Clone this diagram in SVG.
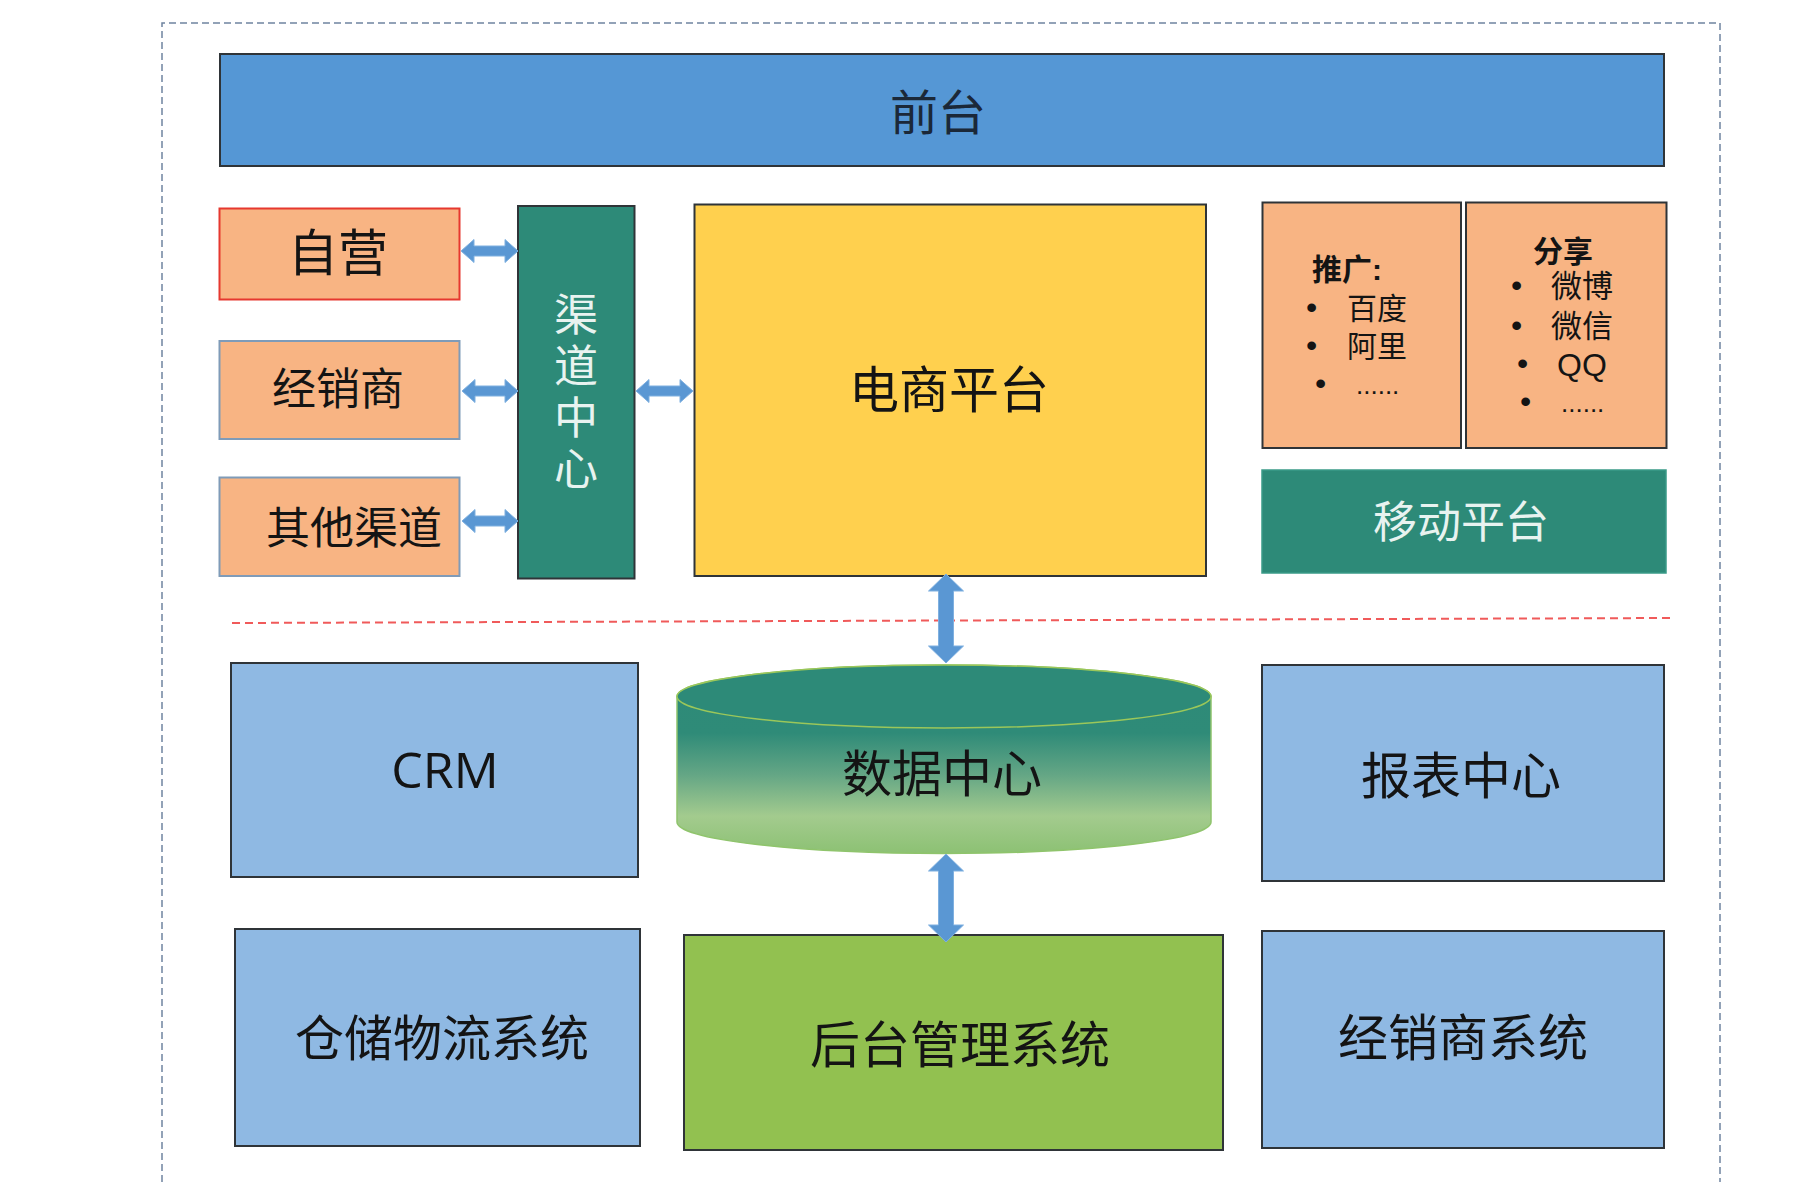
<svg xmlns="http://www.w3.org/2000/svg" width="1802" height="1182" viewBox="0 0 1802 1182">
<defs>
<linearGradient id="cylGrad" x1="0" y1="665" x2="0" y2="854" gradientUnits="userSpaceOnUse">
<stop offset="0" stop-color="#2D8A78"/>
<stop offset="0.36" stop-color="#2F8B78"/>
<stop offset="0.58" stop-color="#64A685"/>
<stop offset="0.8" stop-color="#A3CB8E"/>
<stop offset="1" stop-color="#8CC173"/>
</linearGradient>
<style>
.box{stroke:#2F3438;stroke-width:2}
.peach{fill:#F8B483}
.teal{fill:#2D8A78}
.lblue{fill:#8FB9E3}
.t{font-family:"Noto Sans CJK SC","Liberation Sans",sans-serif;fill:#141414;text-anchor:middle}
.tl{font-family:"Noto Sans CJK SC","Liberation Sans",sans-serif;fill:#141414}
.li{font-family:"Liberation Sans","Noto Sans CJK SC",sans-serif;fill:#141414}
.w{fill:#E8F3F0}
.b{font-weight:bold}
.bul{font-size:32px}
.arrow{fill:#5A97D3;stroke:#7FB0E0;stroke-width:1}
</style>
</defs>
<rect x="0" y="0" width="1802" height="1182" fill="#FFFFFF"/>
<path d="M162,1182 V23 H1720 V1182" fill="none" stroke="#6F84A0" stroke-width="1.5" stroke-dasharray="7 4"/>
<line x1="232" y1="623" x2="1671" y2="618" stroke="#F05A5A" stroke-width="2" stroke-dasharray="8 5"/>

<g id="qiantai">
<rect x="220" y="54" width="1444" height="112" fill="#5597D5" class="box"/>
<text x="938" y="130" class="t" font-size="48" style="fill:#1B2838">前台</text>
</g>

<g id="ziying">
<rect x="219.5" y="208.5" width="240" height="91" class="peach" stroke="#E6382F" stroke-width="2"/>
<text x="338" y="271" class="t" font-size="50">自营</text>
</g>

<g id="jingxiaoshang">
<rect x="219.5" y="341" width="240" height="98" class="peach" stroke="#7F9BB8" stroke-width="2"/>
<text x="338" y="405" class="t" font-size="44">经销商</text>
</g>

<g id="qitaqudao">
<rect x="219.5" y="477.5" width="240" height="98.5" class="peach" stroke="#7F9BB8" stroke-width="2"/>
<text x="354" y="544" class="t" font-size="44">其他渠道</text>
</g>

<g id="qudaozhongxin">
<rect x="518" y="206" width="116.5" height="372.5" class="teal box"/>
<text x="576" y="292" class="tl w" font-size="44" writing-mode="vertical-rl" letter-spacing="7.5">渠道中心</text>
</g>

<g id="dianshang">
<rect x="694.5" y="204.5" width="511.5" height="371.5" fill="#FFD04E" class="box"/>
<text x="949" y="408" class="t" font-size="50">电商平台</text>
</g>

<g id="tuiguang">
<rect x="1262.5" y="202.5" width="198.5" height="245.5" class="peach box"/>
<text class="li" font-size="30"><tspan x="1312" y="280" class="b">推广:</tspan><tspan x="1306" y="318" class="bul">•</tspan><tspan x="1347" y="319">百度</tspan><tspan x="1306" y="356" class="bul">•</tspan><tspan x="1347" y="357">阿里</tspan><tspan x="1315" y="394" class="bul">•</tspan><tspan x="1356" y="394" font-size="26">......</tspan></text>
</g>

<g id="fenxiang">
<rect x="1466" y="202.5" width="200.5" height="245.5" class="peach box"/>
<text class="li" font-size="31"><tspan x="1533" y="262" class="b" font-size="30">分享</tspan><tspan x="1511" y="296" class="bul">•</tspan><tspan x="1551" y="297">微博</tspan><tspan x="1511" y="336" class="bul">•</tspan><tspan x="1551" y="337">微信</tspan><tspan x="1517" y="374" class="bul">•</tspan><tspan x="1557" y="376" font-size="32">QQ</tspan><tspan x="1520" y="412" class="bul">•</tspan><tspan x="1561" y="412" font-size="26">......</tspan></text>
</g>

<g id="yidong">
<rect x="1262" y="470" width="404" height="103" class="teal" stroke="#3A9A88" stroke-width="1.5"/>
<text x="1461" y="538" class="t w" font-size="44">移动平台</text>
</g>

<g id="crm">
<rect x="231" y="663" width="407" height="214" class="lblue box"/>
<text x="445" y="788" class="t" font-size="50" style="font-family:'Open Sans','Noto Sans CJK SC',sans-serif">CRM</text>
</g>

<g id="shujuzhongxin">
<path d="M677,696.5 V822 A267,31.5 0 0 0 1211,822 V696.5 A267,31.5 0 0 0 677,696.5 Z" fill="url(#cylGrad)" stroke="#8FC46C" stroke-width="1.5"/>
<ellipse cx="944" cy="696.5" rx="267" ry="31.5" fill="#2D8A78" stroke="#9BC75A" stroke-width="1.5"/>
<text x="942" y="792" class="t" font-size="50">数据中心</text>
</g>

<g id="baobiao">
<rect x="1262" y="665" width="402" height="216" class="lblue box"/>
<text x="1461" y="794" class="t" font-size="50">报表中心</text>
</g>

<g id="cangchu">
<rect x="235" y="929" width="405" height="217" class="lblue box"/>
<text x="442" y="1056" class="t" font-size="49">仓储物流系统</text>
</g>

<g id="houtai">
<rect x="684" y="935" width="539" height="215" fill="#92C150" class="box"/>
<text x="960" y="1063" class="t" font-size="50">后台管理系统</text>
</g>

<g id="jingxiaoshangxitong">
<rect x="1262" y="931" width="402" height="217" class="lblue box"/>
<text x="1463" y="1056" class="t" font-size="50">经销商系统</text>
</g>

<g id="connectors">
<path class="arrow" d="M461,251 L474,239.5 L474,246 L505,246 L505,239.5 L518,251 L505,262.5 L505,256 L474,256 L474,262.5 Z"/>
<path class="arrow" d="M462,391 L475,379.5 L475,386 L505,386 L505,379.5 L518,391 L505,402.5 L505,396 L475,396 L475,402.5 Z"/>
<path class="arrow" d="M462,521 L475,509.5 L475,516 L505,516 L505,509.5 L518,521 L505,532.5 L505,526 L475,526 L475,532.5 Z"/>
<path class="arrow" d="M636,391 L649,379.5 L649,386 L680,386 L680,379.5 L693,391 L680,402.5 L680,396 L649,396 L649,402.5 Z"/>
<path class="arrow" d="M946,574 L963.5,591 L953.5,591 L953.5,646 L963.5,646 L946,663 L928.5,646 L938.5,646 L938.5,591 L928.5,591 Z"/>
<path class="arrow" d="M946,854 L963.5,871 L953.5,871 L953.5,925 L963.5,925 L946,942 L928.5,925 L938.5,925 L938.5,871 L928.5,871 Z"/>
</g>
</svg>
